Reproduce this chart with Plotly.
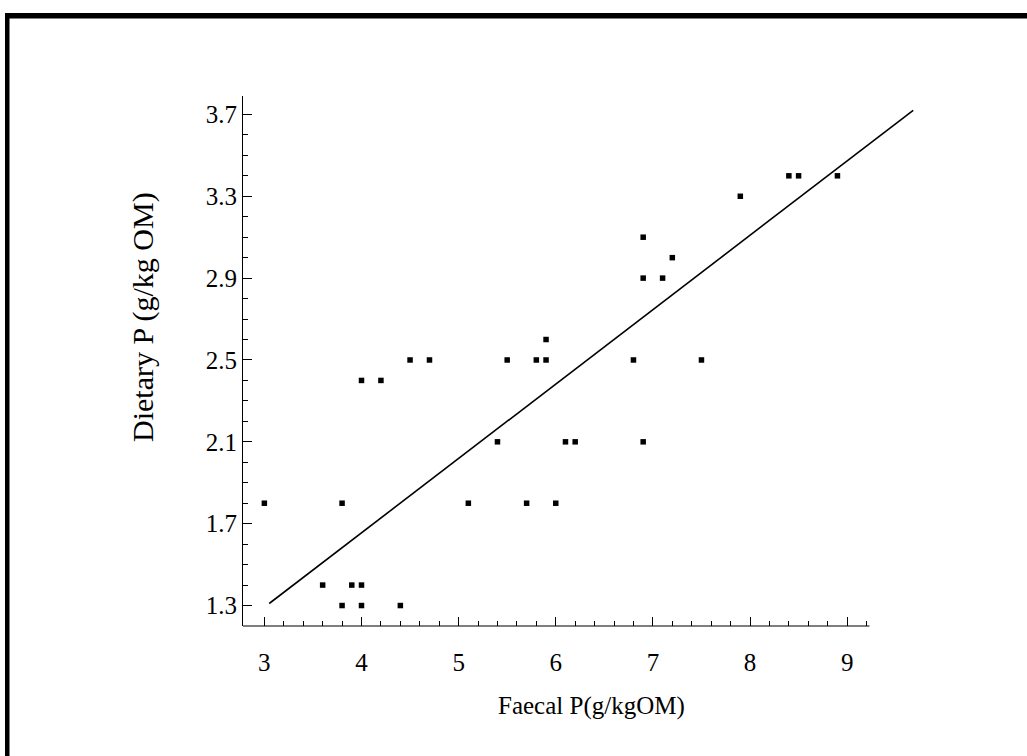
import plotly.graph_objects as go

# ---- data ----
faecal_p = [3.0, 3.6, 3.8, 3.8, 3.9, 4.0, 4.0, 4.4, 4.0, 4.2, 4.5, 4.7, 5.1, 5.4, 5.5,
            5.7, 5.8, 5.9, 5.9, 6.0, 6.1, 6.2, 6.8, 6.9, 6.9, 6.9, 7.1, 7.2, 7.5, 7.9,
            8.4, 8.5, 8.9]
dietary_p = [1.8, 1.4, 1.8, 1.3, 1.4, 1.4, 1.3, 1.3, 2.4, 2.4, 2.5, 2.5, 1.8, 2.1, 2.5,
             1.8, 2.5, 2.5, 2.6, 1.8, 2.1, 2.1, 2.5, 3.1, 2.9, 2.1, 2.9, 3.0, 2.5, 3.3,
             3.4, 3.4, 3.4]
fit_x = [3.05, 9.68]
fit_y = [1.31, 3.72]

x_ticks = [3, 4, 5, 6, 7, 8, 9]
x_minor = [3.2, 3.4, 3.6, 3.8, 4.2, 4.4, 4.6, 4.8, 5.2, 5.4, 5.6, 5.8, 6.2, 6.4, 6.6, 6.8,
           7.2, 7.4, 7.6, 7.8, 8.2, 8.4, 8.6, 8.8, 9.2]
y_ticks = [1.3, 1.7, 2.1, 2.5, 2.9, 3.3, 3.7]
y_tick_text = ["1.3", "1.7", "2.1", "2.5", "2.9", "3.3", "3.7"]
y_minor = [1.4, 1.5, 1.6, 1.8, 1.9, 2.0, 2.2, 2.3, 2.4, 2.6, 2.7, 2.8, 3.0, 3.1, 3.2,
           3.4, 3.5, 3.6]
x_range = [2.78, 9.75]
x_axis_end = 9.23
y_range = [1.2, 3.79]

# ---- layout geometry (pixels) ----
W, H = 1027, 756
L, R, T, B = 243, 107, 96, 130
pw, ph = W - L - R, H - T - B


def px(x):
    return (x - L) / pw


def py(y):
    return (H - B - y) / ph


FONT = "Liberation Serif"

fig = go.Figure()
fig.add_trace(go.Scatter(x=fit_x, y=fit_y, mode="lines",
                         line=dict(color="black", width=1.6), showlegend=False,
                         hoverinfo="skip"))
fig.add_trace(go.Scatter(x=faecal_p, y=dietary_p, mode="markers",
                         marker=dict(symbol="square", size=5.5, color="black"),
                         showlegend=False))

shapes = [
    # x axis line (stops short of the plot's right edge)
    dict(type="line", xref="x", yref="paper", x0=x_range[0], x1=x_axis_end, y0=0, y1=0,
         line=dict(color="black", width=1.2)),
    # scan frame: left and top
    dict(type="rect", xref="paper", yref="paper", x0=px(5), x1=px(9.5), y0=py(13), y1=py(770),
         fillcolor="black", line=dict(width=0)),
    dict(type="rect", xref="paper", yref="paper", x0=px(5), x1=px(1035), y0=py(13), y1=py(18.5),
         fillcolor="black", line=dict(width=0)),
]

annotations = [
    dict(text="Faecal P(g/kgOM)", xref="paper", yref="paper", x=px(591), y=py(706),
         xanchor="center", yanchor="middle", showarrow=False,
         font=dict(family=FONT, size=25, color="black")),
    dict(text="Dietary P (g/kg OM)", xref="paper", yref="paper", x=px(143), y=py(317),
         xanchor="center", yanchor="middle", showarrow=False, textangle=-90,
         font=dict(family=FONT, size=30, color="black")),
]

fig.update_layout(
    width=W, height=H,
    margin=dict(l=L, r=R, t=T, b=B, pad=0),
    paper_bgcolor="white", plot_bgcolor="white",
    shapes=shapes, annotations=annotations,
    font=dict(family=FONT, size=25, color="black"),
    xaxis=dict(range=x_range, tickmode="array", tickvals=x_ticks,
               ticks="inside", ticklen=9, tickwidth=1.2, tickcolor="black",
               showline=False, showgrid=False, zeroline=False,
               ticklabelstandoff=19,
               minor=dict(tickmode="array", tickvals=x_minor, ticks="inside",
                          ticklen=5, tickwidth=1, tickcolor="black", showgrid=False),
               tickfont=dict(family=FONT, size=25, color="black")),
    yaxis=dict(range=y_range, tickmode="array", tickvals=y_ticks, ticktext=y_tick_text,
               ticks="inside", ticklen=9, tickwidth=1.2, tickcolor="black",
               showline=True, linecolor="black", linewidth=1.2,
               showgrid=False, zeroline=False, ticklabelstandoff=0,
               minor=dict(tickmode="array", tickvals=y_minor, ticks="inside",
                          ticklen=5, tickwidth=1, tickcolor="black", showgrid=False),
               tickfont=dict(family=FONT, size=25, color="black")),
)

fig.write_html("out.html")
